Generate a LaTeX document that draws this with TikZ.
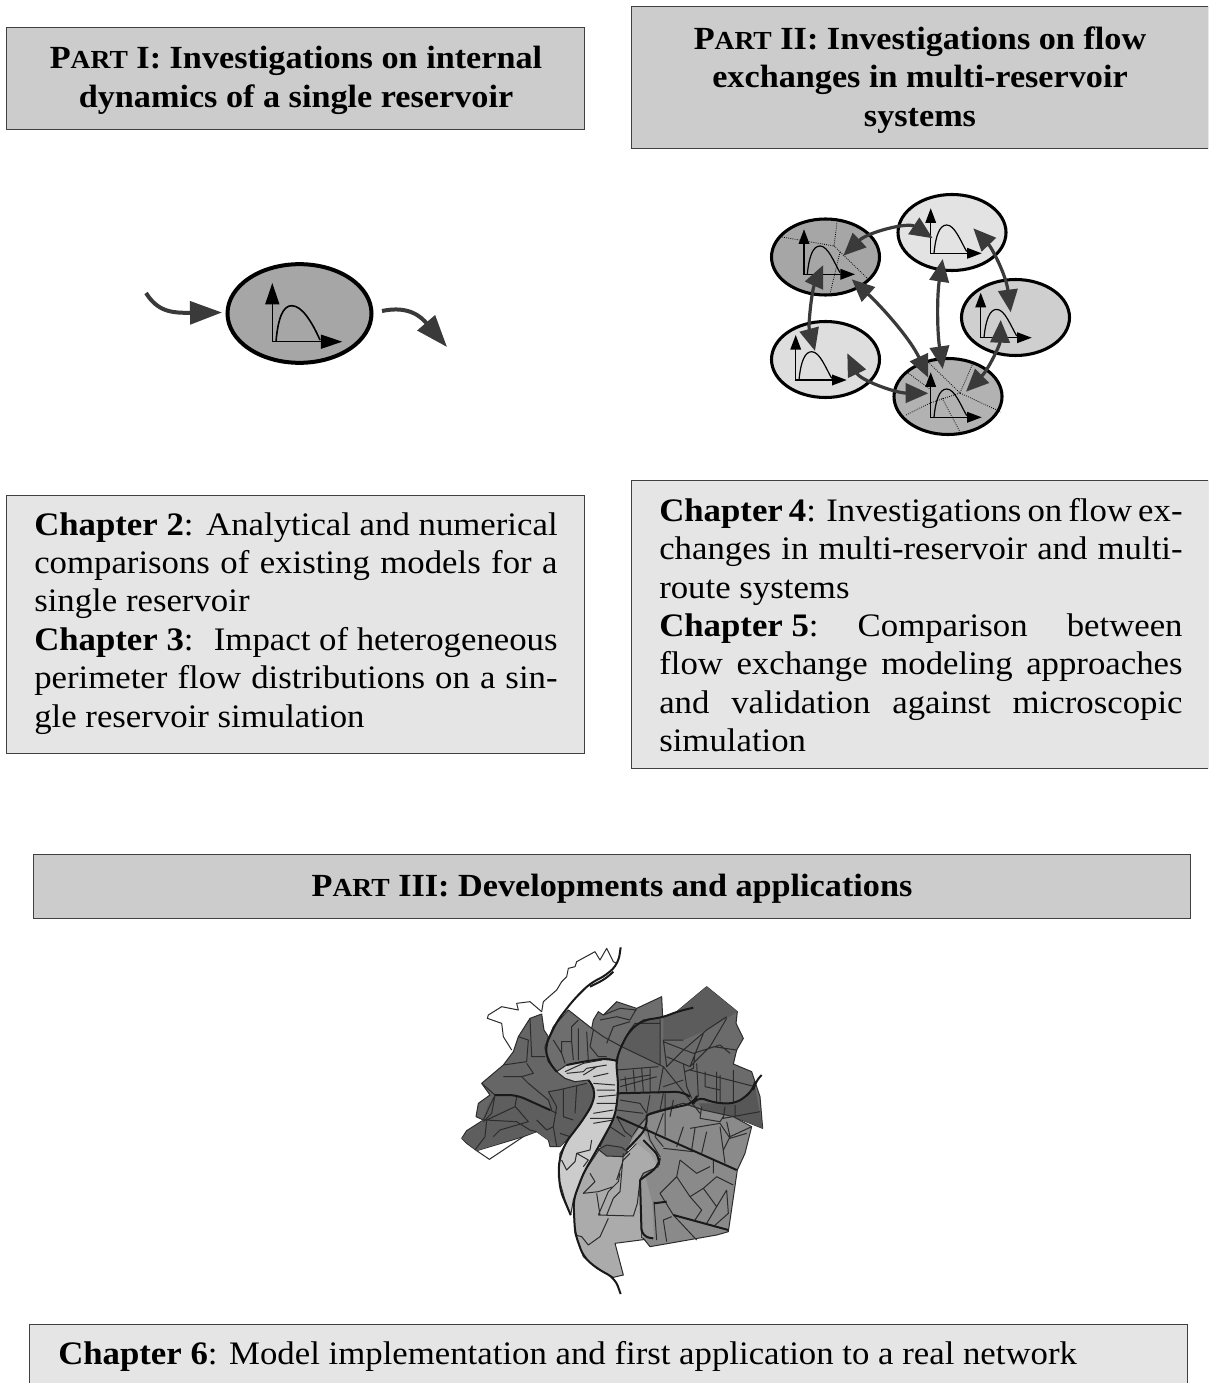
\documentclass[tikz,border=0pt]{standalone}
\usepackage{fontspec}
\setmainfont[FakeStretch=1.06]{Liberation Serif}
\usetikzlibrary{arrows.meta}
\definecolor{partgray}{HTML}{CCCCCC}
\definecolor{chapgray}{HTML}{E5E5E5}
\definecolor{flowgray}{HTML}{3A3A3A}
\definecolor{mapline}{HTML}{2C2C2C}
\newcommand{\PT}[1]{P{\fontsize{19.5}{20}\selectfont #1}}
\newcommand{\jl}[1]{\hbox to 392.5pt{#1}}
\newcommand{\nl}[1]{\hbox{#1}}
\tikzset{
 x=0.75pt,y=-0.75pt,
 partbox/.style={draw=black!75,line width=0.7pt,fill=partgray,inner sep=0pt},
 chapbox/.style={draw=black!75,line width=0.7pt,fill=chapgray,inner sep=0pt},
 parttext/.style={font=\fontsize{24.2}{28.8}\selectfont\bfseries,align=center,inner sep=0pt},
 chaptext/.style={font=\fontsize{24.6}{28.8}\selectfont,align=left,inner sep=0pt,anchor=north west},
 reservoir/.style={ellipse,draw=black,line width=2.3pt,inner sep=0pt,minimum width=81pt,minimum height=57pt},
 flow/.style={draw=flowgray,line width=2.4pt,{Triangle[length=17pt,width=14.5pt]}-{Triangle[length=17pt,width=14.5pt]}},
 bigflow/.style={draw=flowgray,line width=3pt,-{Triangle[length=24pt,width=17pt]}},
 dots/.style={line width=0.6pt,densely dotted,draw=black},
 mapthin/.style={draw=mapline,line width=0.75pt,line join=round},
 mapthick/.style={draw=black!90,line width=1.5pt,line join=round,rounded corners=6pt},
 district/.style={draw=mapline,line width=0.75pt,line join=round},
 plotaxes/.pic={
  \draw[line width=1pt,black,{Triangle[length=11pt,width=8pt]}-{Triangle[length=11pt,width=8pt]}] (0,-45) -- (0,0) -- (51,0);
  \draw[line width=0.9pt,black] (3.3,0) .. controls (5,-18) and (9,-28.3) .. (16,-28.3) .. controls (24,-28.3) and (30,-12) .. (36,-1.7);
 }
}
\usetikzlibrary{shapes.geometric}
\begin{document}
\begin{tikzpicture}
\clip (0,0) rectangle (1208,1383);
\fill[white] (0,0) rectangle (1208,1383);

% --- header boxes
\node[partbox,minimum width=434pt,minimum height=76.5pt] (p1) at (295.5,78) {};
\node[parttext] (p1t) at (296,80.5) {\PT{ART} I: Investigations on internal\\dynamics of a single reservoir};
\node[partbox,minimum width=432.5pt,minimum height=106pt] (p2) at (920,77.5) {};
\node[parttext] (p2t) at (920,80) {\PT{ART} II: Investigations on flow\\exchanges in multi-reservoir\\systems};
\node[partbox,minimum width=868pt,minimum height=48pt] (p3) at (612,886) {};
\node[parttext] (p3t) at (612,889) {\PT{ART} III: Developments and applications};

% --- chapter boxes
\node[chapbox,minimum width=434pt,minimum height=193.5pt] (c1) at (295.5,624) {};
\node[chaptext] (c1t) at (34,512) {\jl{\textbf{Chapter 2}:\hfil Analytical and numerical}\\\jl{comparisons of existing models for a}\\\nl{single reservoir}\\\jl{\textbf{Chapter 3}:\hfil Impact of heterogeneous}\\\jl{perimeter flow distributions on a sin-}\\\nl{gle reservoir simulation}};
\node[chapbox,minimum width=432.5pt,minimum height=216pt] (c2) at (920,624) {};
\node[chaptext] (c2t) at (659,498) {\jl{\textbf{Chapter 4}: Investigations on flow ex-}\\\jl{changes in multi-reservoir and multi-}\\\nl{route systems}\\\jl{\textbf{Chapter 5}:\hfil Comparison\hfil between}\\\jl{flow exchange modeling approaches}\\\jl{and validation against microscopic}\\\nl{simulation}};
\node[chapbox,minimum width=868pt,minimum height=60pt] (c3) at (608.5,1364) {};
\node[chaptext] (c3t) at (58,1341) {\textbf{Chapter 6}: Model implementation and first application to a real network};

% --- single reservoir
\node[reservoir,fill=black!35,minimum width=108pt,minimum height=74pt,line width=3pt] (r0) at (299.5,313.5) {};
\coordinate (in0) at (146,293);
\coordinate (in1) at (222,312.5);
\coordinate (out0) at (382,311);
\coordinate (out1) at (447,347);
\draw[bigflow] (in0) .. controls (158,312) and (172,313) .. (in1);
\draw[bigflow] (out0) .. controls (410,305) and (422,318) .. (out1);
\draw[line width=1.1pt,black,{Triangle[length=16pt,width=10.5pt]}-{Triangle[length=16pt,width=10.5pt]}] (272.3,283) -- (272.3,341.7) -- (342.3,341.7);
\draw[line width=1.2pt,black] (276,341.7) .. controls (278,318) and (283,305.7) .. (291.7,305.7) .. controls (302,305.7) and (312,322) .. (320,340);

% --- five reservoirs
\node[reservoir,fill=black!35] (r1) at (825.5,257) {};
\node[reservoir,fill=black!11] (r2) at (952,232.5) {};
\node[reservoir,fill=black!19] (r3) at (1015.5,317.5) {};
\node[reservoir,fill=black!13] (r4) at (825.5,359.5) {};
\node[reservoir,fill=black!30] (r5) at (948,396.5) {};

% dotted sub-divisions
\draw[dots] (782,237) -- (834,246) -- (837,222);
\draw[dots] (834,246) -- (868,279);
\draw[dots] (840,252) -- (830,294);
\draw[dots] (928,362) -- (960,393) -- (1001,412);
\draw[dots] (908,373) -- (930,389);
\draw[dots] (973,363) -- (960,393);
\draw[dots] (960,393) -- (930,403) -- (906,415);
\draw[dots] (942,398) -- (960,432);

\pic at (804,274.3) {plotaxes};
\pic at (930.7,253.3) {plotaxes};
\pic at (980.7,337.7) {plotaxes};
\pic at (795.7,380) {plotaxes};
\pic at (930.7,417.3) {plotaxes};

\coordinate (a1) at (843.3,255.7); \coordinate (a2) at (932.7,238.3);
\coordinate (b1) at (973.3,228.3); \coordinate (b2) at (1010.7,312.3);
\coordinate (d1) at (1000.7,320);  \coordinate (d2) at (966,391.7);
\coordinate (e1) at (942.7,259);   \coordinate (e2) at (942.7,369);
\coordinate (f1) at (851.7,279.3); \coordinate (f2) at (928.3,377.7);
\coordinate (g1) at (823.3,265);   \coordinate (g2) at (815,351);
\coordinate (h1) at (847.3,353.3); \coordinate (h2) at (928.3,393.3);
\draw[flow] (a1) .. controls (868,232) and (908,222) .. (a2);
\draw[flow] (b1) .. controls (992,248) and (1006,275) .. (b2);
\draw[flow] (d1) .. controls (1000,345) and (988,370) .. (d2);
\draw[flow] (e1) .. controls (937,295) and (937,330) .. (e2);
\draw[flow] (f1) .. controls (880,305) and (910,338) .. (f2);
\draw[flow] (g1) .. controls (812,290) and (808,325) .. (g2);
\draw[flow] (h1) .. controls (860,380) and (895,393) .. (h2);

% --- city map (traced in 3x crop coordinates)
\begin{scope}[shift={(450,940)},xscale=1/3,yscale=1/3]
 % unfilled outlines
 \draw[mapthin] (275,215)--(240,185)--(200,190)--(205,210)--(155,200)--(115,225)--(112,235)--(155,250)--(160,290)--(185,330);
 \draw[mapthin] (275,215)--(280,185)--(320,150)--(335,125)--(350,110)--(355,85)--(375,80)--(380,65)--(435,35)--(450,60)--(470,25)--(490,65)--(500,70);
 \draw[mapthin] (80,632)--(118,658)--(220,590);
 % filled districts
 \fill[black!60,district] (35,595)--(50,572)--(100,540)--(78,530)--(85,490)--(120,465)--(95,430)--(160,375)--(190,335)--(205,290)--(240,235)--(275,222)--(282,270)--(295,290)--(285,325)--(295,365)--(320,395)--(345,415)--(375,425)--(415,420)--(432,445)--(430,480)--(415,510)--(395,545)--(360,590)--(330,620)--(300,620)--(295,600)--(260,575)--(220,590)--(80,632)--(50,610)--cycle;
 \fill[black!63] (135,465)--(200,470)--(300,510)--(295,455)--(410,430)--(432,445)--(430,480)--(395,545)--(330,620)--(295,600)--(260,575)--(80,632)--(35,595)--(100,540)--(110,500)--cycle;
 \fill[black!57,district] (285,320)--(310,260)--(355,210)--(425,265)--(430,240)--(445,215)--(460,225)--(500,185)--(560,205)--(635,170)--(638,232)--(580,240)--(540,270)--(515,315)--(498,362)--(470,355)--(400,365)--(350,375)--(320,395)--(295,365)--cycle;
 \fill[black!58,district] (498,362)--(515,315)--(540,270)--(580,240)--(638,232)--(680,215)--(770,140)--(862,215)--(858,250)--(880,295)--(860,330)--(850,372)--(905,395)--(915,425)--(930,470)--(938,565)--(850,530)--(760,510)--(700,490)--(600,520)--(570,555)--(545,590)--(520,630)--(450,620)--(490,540)--(500,500)--(505,440)--cycle;
 \fill[black!64] (540,270)--(580,240)--(630,235)--(630,375)--(515,320)--cycle;
 \fill[black!64] (640,232)--(680,215)--(770,140)--(862,215)--(830,235)--(770,270)--(700,300)--(640,300)--cycle;
 \fill[black!66] (745,490)--(800,490)--(860,490)--(915,440)--(938,565)--(850,530)--(760,510)--cycle;
 \fill[black!33,district] (450,625)--(530,640)--(570,600)--(630,650)--(625,680)--(580,700)--(570,720)--(575,892)--(610,895)--(495,910)--(520,1005)--(490,1012)--(440,985)--(400,950)--(375,880)--(370,780)--(400,700)--cycle;
 \fill[black!46,district] (530,625)--(545,590)--(570,555)--(600,520)--(700,490)--(760,510)--(850,530)--(905,560)--(885,640)--(862,690)--(835,875)--(800,885)--(600,920)--(580,895)--(575,892)--(570,720)--(580,700)--(625,680)--(630,650)--(570,600)--cycle;
 \fill[black!40] (570,720)--(585,705)--(607,790)--(612,895)--(576,892)--cycle;
 \fill[black!38] (530,630)--(570,560)--(600,610)--(630,650)--(625,680)--(600,640)--(560,610)--cycle;
 \fill[black!60] (490,540)--(500,530)--(560,560)--(545,590)--(530,635)--(450,625)--cycle;
 \fill[black!20,district] (320,395)--(350,375)--(400,365)--(470,355)--(498,362)--(505,440)--(500,500)--(490,540)--(450,615)--(400,700)--(370,780)--(362,825)--(345,780)--(325,710)--(330,640)--(360,590)--(395,545)--(415,510)--(430,480)--(432,445)--(415,420)--(375,425)--(345,415)--cycle;
 \fill[black!62,district] (445,628)--(470,615)--(515,622)--(532,635)--(520,650)--(470,648)--cycle;
 % streets
 \draw[mapthin]
  (95,430)--(135,465)--(100,540) (135,465)--(125,520)--(100,545)
  (160,375)--(230,365)--(235,300)--(205,290) (240,235)--(245,350)--(285,350)
  (160,410)--(215,410)--(235,430)--(295,480)--(305,510) (215,410)--(250,400)--(230,370)
  (200,470)--(195,500)--(110,540)--(105,590)--(75,630) (105,540)--(200,545)--(240,570)--(260,575)
  (130,590)--(150,570)--(235,545)--(205,510)--(195,500) (295,455)--(325,450)--(410,430)
  (295,455)--(320,500)--(310,560)--(320,620) (340,445)--(340,530)--(370,540)
  (380,440)--(375,520) (300,510)--(320,520) (260,540)--(290,570)--(310,560) (360,590)--(330,580)
  (310,300)--(335,340)--(335,305)--(365,305)--(365,260)--(385,240) (335,340)--(345,370)
  (365,305)--(370,360) (385,265)--(385,360) (410,275)--(415,365) (425,265)--(460,290)--(515,320)
  (430,270)--(420,320)--(445,350)--(470,350) (460,225)--(510,205)--(560,210)
  (450,240)--(500,230)--(540,240)--(560,205) (470,310)--(490,260)--(540,245)
  (540,270)--(555,250)--(630,250) (515,320)--(640,380)--(700,455)--(750,520)
  (630,238)--(630,375) (640,300)--(650,380)--(700,330)--(770,270)--(830,230)
  (640,300)--(700,300) (650,350)--(720,380)--(760,280) (830,235)--(780,320)--(720,380)
  (860,330)--(790,320) (740,370)--(745,470) (800,395)--(800,490) (850,390)--(850,490)
  (640,380)--(625,460) (720,390)--(915,440) (500,390)--(625,380) (510,440)--(620,410)
  (525,410)--(530,455) (550,390)--(555,455) (575,385)--(580,455) (600,385)--(600,455)
  (510,420)--(600,405) (640,440)--(700,420)
  (600,465)--(590,520) (640,460)--(630,510) (510,480)--(570,490)--(590,520) (500,510)--(580,520)
  (590,560)--(600,600)--(630,650) (640,520)--(615,590)--(640,620) (700,560)--(680,620)
  (735,565)--(725,630) (770,575)--(755,640) (810,560)--(825,670) (830,545)--(840,590)--(820,630)
  (905,560)--(840,590) (640,625)--(730,635) (690,660)--(680,710)--(630,760)--(670,825)
  (680,710)--(720,770)--(760,745)--(800,710) (720,770)--(755,810)--(735,840)
  (760,745)--(800,800)--(770,850) (800,710)--(850,735) (800,800)--(830,750)
  (830,750)--(835,820)--(790,860) (665,830)--(640,840)--(650,905) (612,785)--(620,900)
  (670,825)--(740,900) (780,680)--(740,700)--(690,660) (790,660)--(790,700)
  (420,700)--(435,725)--(400,760)--(445,755)--(490,740)--(505,725)--(510,700)
  (445,825)--(475,755)--(490,740) (440,760)--(450,825) (445,825)--(550,828)--(562,790)--(570,720)
  (470,825)--(490,775)--(510,755)--(520,640) (500,720)--(520,660)--(540,640)
  (475,835)--(450,890)--(415,915)--(395,890)--(375,885)
  (335,660)--(350,690)--(375,665)--(380,640)--(420,630) (380,640)--(415,660)--(400,680)
  (425,600)--(420,630) (430,550)--(490,540) (430,520)--(490,510)
  (345,395)--(400,370)--(455,360) (350,400)--(400,395)--(410,385)--(470,375)
  (400,405)--(440,380) (430,410)--(475,400) (430,430)--(495,435) (440,450)--(495,450)
  (445,470)--(500,465) (440,490)--(500,490) (420,535)--(490,535)
  (500,530)--(525,575) (525,575)--(545,590) (480,560)--(525,590)
  (640,305)--(730,340)--(810,315)--(840,340) (735,340)--(730,385)--(705,395)
  (700,370)--(710,440)--(725,475) (765,395)--(765,440)--(810,450) (810,405)--(810,485)
  (755,500)--(750,535)--(810,545)--(820,530) (825,500)--(820,535)--(930,515)
  (855,495)--(855,530) (645,460)--(645,590) (670,480)--(660,530)
  (720,565)--(810,550)--(840,595)--(890,580);
 % thick lines
 \draw[mapthick] (512,22)--(505,70)--(470,105)--(420,130)--(370,180)--(320,245)--(285,320)--(295,365)--(320,395);
 \draw[mapthick] (350,375)--(400,365)--(470,355)--(498,362);
 \draw[mapthick] (415,420)--(435,445)--(430,490)--(395,545)--(345,610)--(325,670)--(330,750)--(362,825);
 \draw[mapthick] (730,203)--(680,215)--(640,232)--(580,240)--(540,270)--(515,315)--(498,362)--(505,440)--(500,500)--(490,540)--(440,630)--(400,700)--(370,780)--(375,880)--(400,950)--(440,985)--(495,1015)--(512,1062);
 \draw[mapthick] (420,140)--(470,115)--(490,95);
 \draw[mapthick] (135,465)--(200,465)--(300,510);
 \draw[mapthick] (500,460)--(700,455)--(720,470);
 \draw[mapthick] (590,525)--(640,510)--(730,490)--(740,470)--(800,490)--(860,490)--(910,450)--(915,425)--(935,405);
 \draw[mapthick,rounded corners=0pt] (500,530)--(860,690);
 \draw[mapthick] (530,630)--(590,565)--(590,525);
 \draw[mapthick] (570,720)--(575,890)--(610,895) (570,720)--(625,680)--(630,650)--(580,600);
 \draw[mapthick,rounded corners=0pt] (670,825)--(835,870) (612,790)--(650,785);
\end{scope}
\end{tikzpicture}
\end{document}
